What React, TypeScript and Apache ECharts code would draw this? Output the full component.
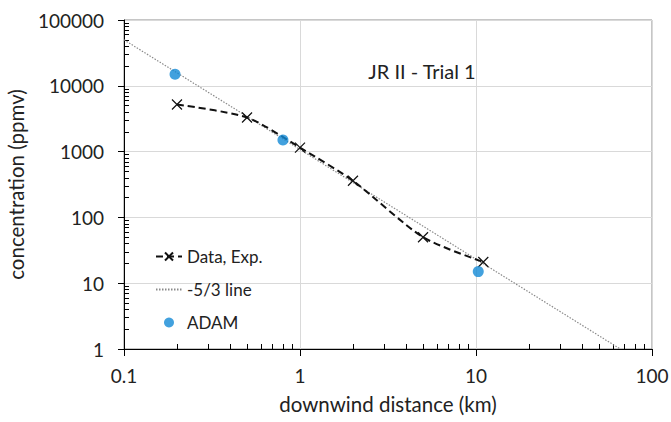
import React, { useEffect, useRef } from "react";
import * as echarts from "echarts";

const expX = [0.2, 0.5, 1, 2, 5, 11];
const expY = [5200, 3300, 1150, 360, 50, 21];

const adamX = [0.195, 0.8, 10.3];
const adamY = [15000, 1500, 15];

const slopeX = [0.1, 66];
const slopeY = [50000, 1];

const xMajorTicks = [0.1, 1, 10, 100];
const yMajorTicks = [1, 10, 100, 1000, 10000, 100000];
const minorSteps = [2, 3, 4, 5, 6, 7, 8, 9];

const FONT = "Lato";

export default function App() {
  const ref = useRef<HTMLDivElement>(null);
  useEffect(() => {
    document.body.style.margin = "0";
    if (!ref.current) return;
    const chart = echarts.init(ref.current, undefined, { renderer: "svg" });

    const xMinor: number[] = [];
    xMajorTicks.slice(0, -1).forEach((d) => minorSteps.forEach((s) => xMinor.push(+(d * s).toPrecision(6))));
    const yMinor: number[] = [];
    yMajorTicks.slice(0, -1).forEach((d) => minorSteps.forEach((s) => yMinor.push(+(d * s).toPrecision(6))));

    const zip = (xs: number[], ys: number[]) => xs.map((x, i) => [x, ys[i]]);
    const xSymbol = "path://M0,0L10,10M10,0L0,10";

    chart.setOption({
      animation: false,
      textStyle: { fontFamily: FONT },
      grid: {
        left: 124,
        right: 19,
        top: 20,
        bottom: 73,
        containLabel: false,
        outerBoundsMode: "none",
        show: true,
        borderColor: "#8c8c8c",
        borderWidth: 1,
        backgroundColor: "transparent",
      },
      title: {
        text: "JR II - Trial 1",
        left: 417,
        top: 56,
        textAlign: "center",
        textStyle: { fontFamily: FONT, fontSize: 20, fontWeight: "normal", color: "#222" },
      },
      legend: {
        orient: "vertical",
        left: 150,
        top: 243,
        itemGap: 16,
        itemWidth: 26,
        itemHeight: 10,
        textStyle: { fontFamily: FONT, fontSize: 17, color: "#222" },
        data: [
          "Data, Exp.",
          { name: "-5/3 line", itemStyle: { opacity: 0 } },
          "ADAM",
        ],
      },
      xAxis: [
        {
          type: "log",
          logBase: 10,
          min: 0.1,
          max: 100,
          name: "downwind distance (km)",
          nameLocation: "middle",
          nameGap: 44,
          nameTextStyle: { fontFamily: FONT, fontSize: 20.5, color: "#222" },
          axisLine: { lineStyle: { color: "#000", width: 1 } },
          axisTick: { show: true, inside: false, length: 7, lineStyle: { color: "#000" } },
          axisLabel: {
            customValues: xMajorTicks,
            margin: 17,
            fontFamily: FONT,
            fontSize: 19,
            color: "#222",
            formatter: (v: number) => String(v),
          },
          splitLine: { show: true, lineStyle: { color: "#d9d9d9", width: 1 } },
        },
        {
          type: "log",
          logBase: 10,
          min: 0.1,
          max: 100,
          position: "bottom",
          axisLine: { show: false },
          axisLabel: { show: false },
          splitLine: { show: false },
          axisTick: { show: true, inside: true, length: 5, customValues: xMinor, lineStyle: { color: "#000" } },
        },
      ],
      yAxis: [
        {
          type: "log",
          logBase: 10,
          min: 1,
          max: 100000,
          name: "concentration (ppmv)",
          nameLocation: "middle",
          nameGap: 83,
          nameTextStyle: { fontFamily: FONT, fontSize: 20.5, color: "#222" },
          axisLine: { lineStyle: { color: "#000", width: 1 } },
          axisTick: { show: true, inside: false, length: 6, lineStyle: { color: "#000" } },
          axisLabel: {
            customValues: yMajorTicks,
            margin: 20,
            fontFamily: FONT,
            fontSize: 19,
            color: "#222",
            formatter: (v: number) => String(v),
          },
          splitLine: { show: true, lineStyle: { color: "#d9d9d9", width: 1 } },
        },
        {
          type: "log",
          logBase: 10,
          min: 1,
          max: 100000,
          position: "left",
          axisLine: { show: false },
          axisLabel: { show: false },
          splitLine: { show: false },
          axisTick: { show: true, inside: true, length: 5, customValues: yMinor, lineStyle: { color: "#000" } },
        },
      ],
      series: [
        {
          name: "-5/3 line",
          type: "line",
          data: zip(slopeX, slopeY),
          showSymbol: false,
          symbol: "none",
          lineStyle: { color: "#8a8a8a", width: 1.2, type: [1.5, 1.5] },
          itemStyle: { color: "#8a8a8a" },
          z: 2,
        },
        {
          name: "Data, Exp.",
          type: "line",
          data: zip(expX, expY),
          smooth: 0.25,
          symbol: xSymbol,
          symbolSize: 10,
          lineStyle: { color: "#111", width: 2, type: [7, 4] },
          itemStyle: { color: "#111", borderColor: "#111", borderWidth: 1.2 },
          z: 3,
        },
        {
          name: "ADAM",
          type: "scatter",
          data: zip(adamX, adamY),
          symbol: "circle",
          symbolSize: 11,
          itemStyle: { color: "#1389d6" },
          z: 4,
        },
      ],
    });
    return () => chart.dispose();
  }, []);
  return <div ref={ref} style={{ width: 671, height: 422 }} />;
}
